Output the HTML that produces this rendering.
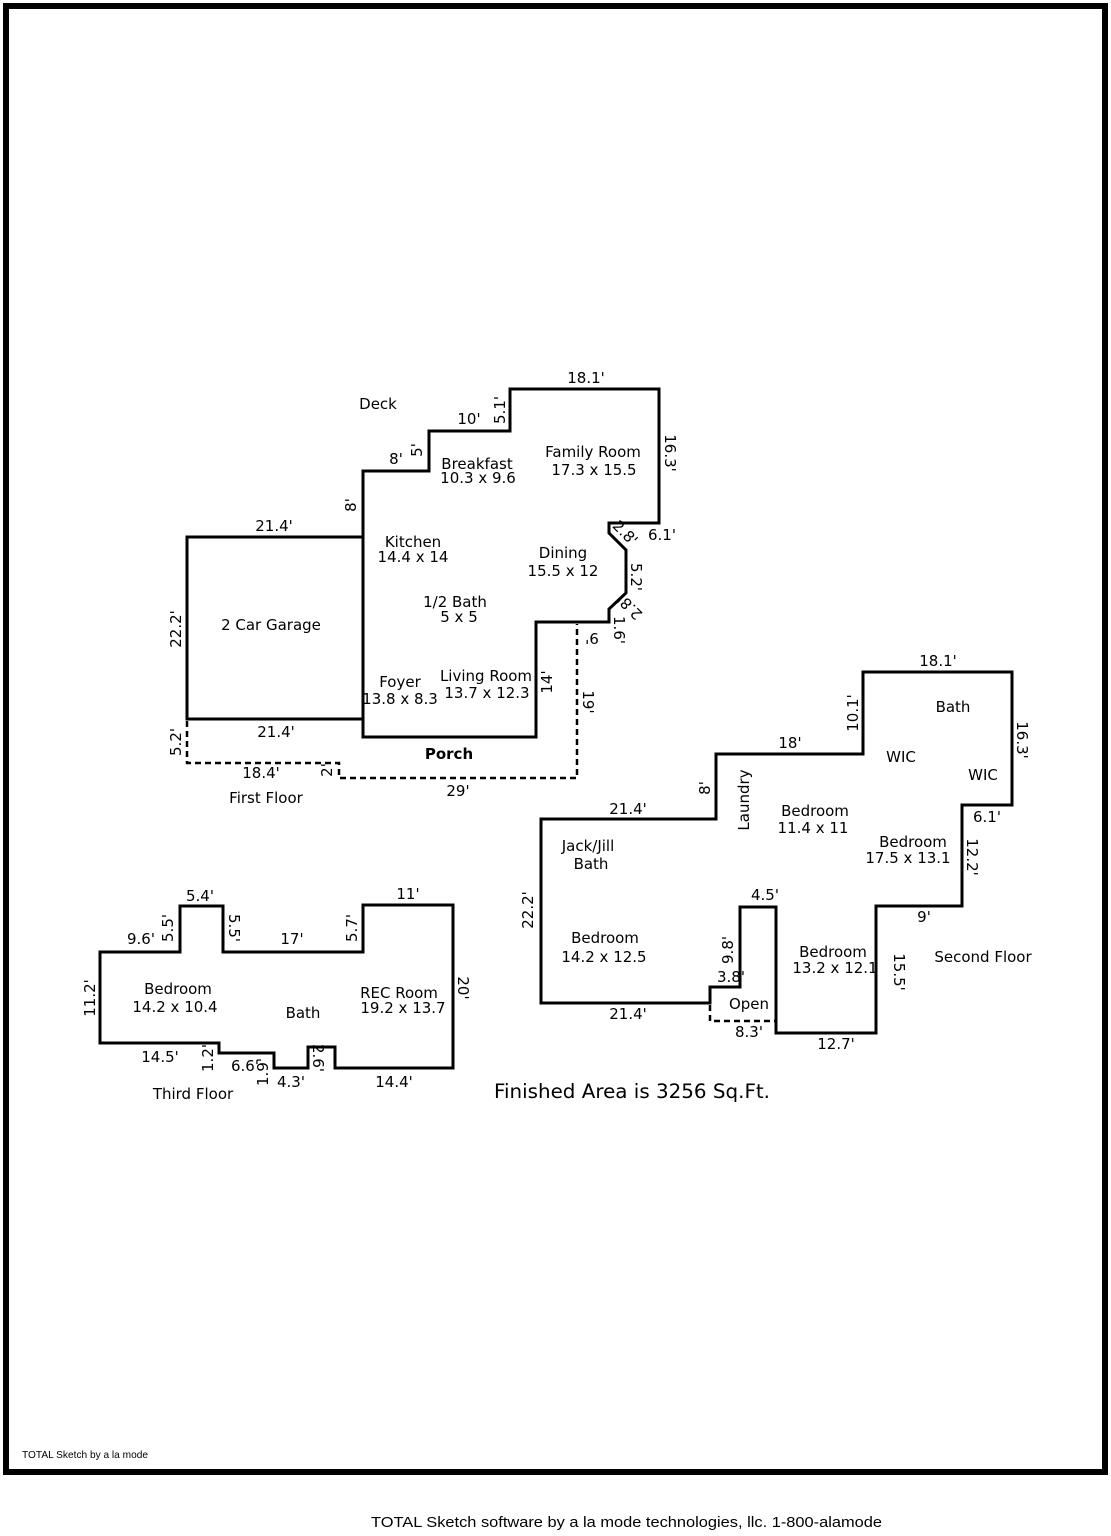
<!DOCTYPE html>
<html>
<head>
<meta charset="utf-8">
<style>
html,body{margin:0;padding:0;background:#fff;}
body{width:1111px;height:1536px;overflow:hidden;}
svg{display:block;}
text{font-family:"DejaVu Sans","Liberation Sans",sans-serif;font-size:15px;fill:#000;}
.m{text-anchor:middle;}
</style>
</head>
<body>
<svg width="1111" height="1536" viewBox="0 0 1111 1536" xmlns="http://www.w3.org/2000/svg">
<rect x="0" y="0" width="1111" height="1536" fill="#fff"/>
<!-- frame -->
<rect x="6" y="6" width="1099" height="1466" fill="none" stroke="#000" stroke-width="6"/>

<g fill="none" stroke="#000" stroke-width="3" stroke-linejoin="miter" stroke-linecap="square">
<!-- First floor -->
<polygon points="363,471 429,471 429,431 510,431 510,389 659,389 659,523 609,523 609,533 626,550 626,593 609,609 609,622 536,622 536,737 363,737"/>
<rect x="187" y="537" width="176" height="182"/>
<!-- Second floor -->
<polygon points="541,819 716,819 716,754 863,754 863,672 1012,672 1012,805 962,805 962,906 876,906 876,1033 776,1033 776,907 740,907 740,987 710,987 710,1003 541,1003"/>
<!-- Third floor -->
<polygon points="100,952 180,952 180,906 223,906 223,952 363,952 363,905 453,905 453,1068 335,1068 335,1047 308,1047 308,1068 274,1068 274,1053 219,1053 219,1043 100,1043"/>
</g>
<g fill="none" stroke="#000" stroke-width="2.5" stroke-dasharray="6,4">
<polyline points="187,721 187,763 339,763 339,778 577,778 577,624"/>
<polyline points="710,1005 710,1021 776,1021"/>
</g>

<!-- First floor labels -->
<text class="m" x="378" y="409">Deck</text>
<text class="m" x="586" y="383">18.1'</text>
<text class="m" x="469" y="424">10'</text>
<text class="m" transform="translate(500,410) rotate(-90)" x="0" y="5">5.1'</text>
<text class="m" transform="translate(417,450) rotate(-90)" x="0" y="5">5'</text>
<text class="m" x="396" y="464">8'</text>
<text class="m" x="477" y="469">Breakfast</text>
<text class="m" x="478" y="483">10.3 x 9.6</text>
<text class="m" x="593" y="457">Family Room</text>
<text class="m" x="594" y="475">17.3 x 15.5</text>
<text class="m" transform="translate(670,453) rotate(90)" x="0" y="5">16.3'</text>
<text class="m" transform="translate(351,505) rotate(-90)" x="0" y="5">8'</text>
<text class="m" x="274" y="531">21.4'</text>
<text class="m" x="413" y="547">Kitchen</text>
<text class="m" x="413" y="562">14.4 x 14</text>
<text class="m" transform="translate(625,533) rotate(45)" x="0" y="5">2.8'</text>
<text class="m" x="662" y="540">6.1'</text>
<text class="m" x="563" y="558">Dining</text>
<text class="m" x="563" y="576">15.5 x 12</text>
<text class="m" transform="translate(636,577) rotate(90)" x="0" y="5">5.2'</text>
<text class="m" transform="translate(630,607) rotate(-135)" x="0" y="5">2.8'</text>
<text class="m" transform="translate(619,630) rotate(90)" x="0" y="5">1.6'</text>
<text class="m" transform="translate(592,638) rotate(180)" x="0" y="5">9'</text>
<text class="m" x="455" y="607">1/2 Bath</text>
<text class="m" x="459" y="622">5 x 5</text>
<text class="m" transform="translate(176,629) rotate(-90)" x="0" y="5">22.2'</text>
<text class="m" x="271" y="630">2 Car Garage</text>
<text class="m" transform="translate(547,682) rotate(-90)" x="0" y="5">14'</text>
<text class="m" transform="translate(588,702) rotate(90)" x="0" y="5">19'</text>
<text class="m" x="400" y="687">Foyer</text>
<text class="m" x="400" y="704">13.8 x 8.3</text>
<text class="m" x="486" y="681">Living Room</text>
<text class="m" x="487" y="698">13.7 x 12.3</text>
<text class="m" x="276" y="737">21.4'</text>
<text class="m" transform="translate(176,742) rotate(-90)" x="0" y="5">5.2'</text>
<text class="m" x="449" y="759" style="font-weight:bold">Porch</text>
<text class="m" x="261" y="778">18.4'</text>
<text class="m" transform="translate(327,770) rotate(-90)" x="0" y="5">2'</text>
<text class="m" x="458" y="796">29'</text>
<text class="m" x="266" y="803">First Floor</text>

<!-- Second floor labels -->
<text class="m" x="938" y="666">18.1'</text>
<text class="m" x="953" y="712">Bath</text>
<text class="m" transform="translate(853,713) rotate(-90)" x="0" y="5">10.1'</text>
<text class="m" transform="translate(1022,740) rotate(90)" x="0" y="5">16.3'</text>
<text class="m" x="790" y="748">18'</text>
<text class="m" x="901" y="762">WIC</text>
<text class="m" x="983" y="780">WIC</text>
<text class="m" transform="translate(705,788) rotate(-90)" x="0" y="5">8'</text>
<text class="m" transform="translate(744,800) rotate(-90)" x="0" y="5">Laundry</text>
<text class="m" x="628" y="814">21.4'</text>
<text class="m" x="815" y="816">Bedroom</text>
<text class="m" x="813" y="833">11.4 x 11</text>
<text class="m" x="987" y="822">6.1'</text>
<text class="m" x="588" y="851">Jack/Jill</text>
<text class="m" x="591" y="869">Bath</text>
<text class="m" x="913" y="847">Bedroom</text>
<text class="m" x="908" y="863">17.5 x 13.1</text>
<text class="m" transform="translate(972,857) rotate(90)" x="0" y="5">12.2'</text>
<text class="m" transform="translate(528,910) rotate(-90)" x="0" y="5">22.2'</text>
<text class="m" x="765" y="900">4.5'</text>
<text class="m" x="924" y="922">9'</text>
<text class="m" transform="translate(728,950) rotate(-90)" x="0" y="5">9.8'</text>
<text class="m" x="605" y="943">Bedroom</text>
<text class="m" x="604" y="962">14.2 x 12.5</text>
<text class="m" x="833" y="957">Bedroom</text>
<text class="m" x="835" y="973">13.2 x 12.1</text>
<text class="m" transform="translate(899,972) rotate(90)" x="0" y="5">15.5'</text>
<text class="m" x="983" y="962">Second Floor</text>
<text class="m" x="731" y="982">3.8'</text>
<text class="m" x="749" y="1009">Open</text>
<text class="m" x="628" y="1019">21.4'</text>
<text class="m" x="749" y="1037">8.3'</text>
<text class="m" x="836" y="1049">12.7'</text>

<!-- Third floor labels -->
<text class="m" x="200" y="901">5.4'</text>
<text class="m" x="408" y="899">11'</text>
<text class="m" transform="translate(168,928) rotate(-90)" x="0" y="5">5.5'</text>
<text class="m" transform="translate(234,928) rotate(90)" x="0" y="5">5.5'</text>
<text class="m" transform="translate(352,928) rotate(-90)" x="0" y="5">5.7'</text>
<text class="m" x="141" y="944">9.6'</text>
<text class="m" x="292" y="944">17'</text>
<text class="m" transform="translate(90,998) rotate(-90)" x="0" y="5">11.2'</text>
<text class="m" transform="translate(463,988) rotate(90)" x="0" y="5">20'</text>
<text class="m" x="178" y="994">Bedroom</text>
<text class="m" x="175" y="1012">14.2 x 10.4</text>
<text class="m" x="303" y="1018">Bath</text>
<text class="m" x="399" y="998">REC Room</text>
<text class="m" x="403" y="1013">19.2 x 13.7</text>
<text class="m" x="160" y="1062">14.5'</text>
<text class="m" transform="translate(208,1058) rotate(-90)" x="0" y="5">1.2'</text>
<text class="m" x="245" y="1071">6.6'</text>
<text class="m" transform="translate(263,1072) rotate(-90)" x="0" y="5">1.9'</text>
<text class="m" transform="translate(318,1058) rotate(90)" x="0" y="5">2.6'</text>
<text class="m" x="291" y="1087">4.3'</text>
<text class="m" x="394" y="1087">14.4'</text>
<text class="m" x="193" y="1099">Third Floor</text>

<text class="m" x="632" y="1098" style="font-size:19.5px" textLength="276" lengthAdjust="spacingAndGlyphs">Finished Area is 3256 Sq.Ft.</text>

<text x="22" y="1458" style="font-family:'Liberation Sans',sans-serif;font-size:10.5px" textLength="126" lengthAdjust="spacingAndGlyphs">TOTAL Sketch by a la mode</text>
<text x="371" y="1527" style="font-family:'Liberation Sans',sans-serif;font-size:15px" textLength="511" lengthAdjust="spacingAndGlyphs">TOTAL Sketch software by a la mode technologies, llc. 1-800-alamode</text>
</svg>
</body>
</html>
